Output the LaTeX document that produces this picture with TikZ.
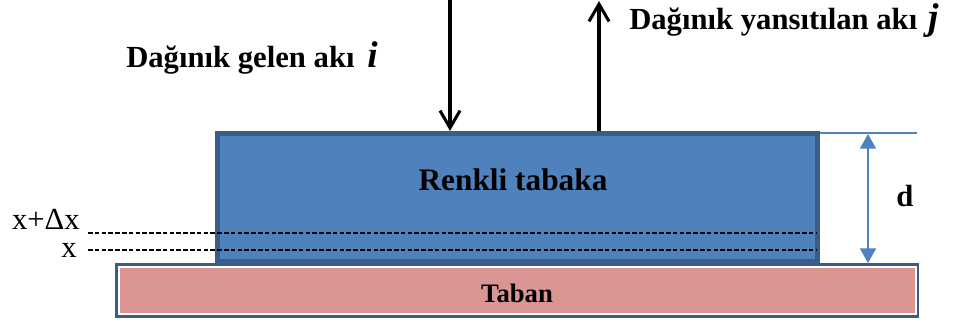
\documentclass[tikz,border=0pt]{standalone}
\usepackage{fontspec}
\setmainfont{Liberation Serif}
\usetikzlibrary{arrows.meta, positioning, calc}
\definecolor{tblue}{HTML}{4F81BD}
\definecolor{tblueline}{HTML}{385D8A}
\definecolor{tpink}{HTML}{D99694}

\tikzset{
  lbl/.style={font=\fontsize{23}{25}\selectfont\bfseries, inner sep=0pt},
  sym/.style={font=\fontsize{23}{25}\selectfont, inner sep=0pt},
  flux/.style={line width=2.3pt, -{Straight Barb[length=13pt, width=15pt, line width=2.3pt]}},
  dimline/.style={tblue, line width=1.2pt},
  levelline/.style={black, line width=1.3pt, dash pattern=on 3.5pt off 1.6pt}
}
\newcommand{\fluxsym}[1]{\fontsize{28}{28}\selectfont\textit{#1}}

\begin{document}
\begin{tikzpicture}[x=0.75pt, y=-0.75pt]
\useasboundingbox (0,0) rectangle (957,326);
% base plate
\fill[tblueline] (115,263) rectangle (919,318);
\fill[white] (118,266) rectangle (917,315);
\fill[tpink] (120,268) rectangle (915,313);
\node[lbl, font=\fontsize{20}{22}\selectfont\bfseries, anchor=base] (taban) at (517,302) {Taban};
% coloured layer
\filldraw[fill=tblue, draw=tblueline, line width=3.6pt] (217.5,133.5) rectangle (817.5,261.5);
\node[lbl, font=\fontsize{23.5}{25}\selectfont\bfseries, anchor=base] (layer) at (513,190) {Renkli tabaka};
\coordinate (top1) at (450,131);
\coordinate (top2) at (599,131);
% level lines
\node[sym, anchor=base east] (xdx) at (80,229) {x+Δx};
\node[sym, anchor=base east] (xx) at (77,257) {x};
\draw[levelline] (88,233) -- (816,233);
\draw[levelline] (88,250) -- (816,250);
% thickness
\draw[dimline] (820,133) -- (917,133);
\coordinate (dtop) at (868,134);
\coordinate (dbot) at (868,263);
\draw[dimline, {Triangle[length=11pt, width=12pt]}-{Triangle[length=11pt, width=12pt]}] (dtop) -- (dbot);
\node[lbl, anchor=base] (d) at (905,206) {d};
% fluxes
\coordinate (inc) at (450,-2);
\coordinate (refl) at (599,1);
\draw[flux] (inc) -- (top1);
\draw[flux] (top2) -- (refl);
\node[lbl, anchor=base west] (inclbl) at (126,67) {Dağınık gelen akı\hspace{0.42em}\fluxsym{i}};
\node[lbl, anchor=base west] (refllbl) at (629,29) {Dağınık yansıtılan akı\hspace{0.35em}\fluxsym{j}};
\end{tikzpicture}
\end{document}
